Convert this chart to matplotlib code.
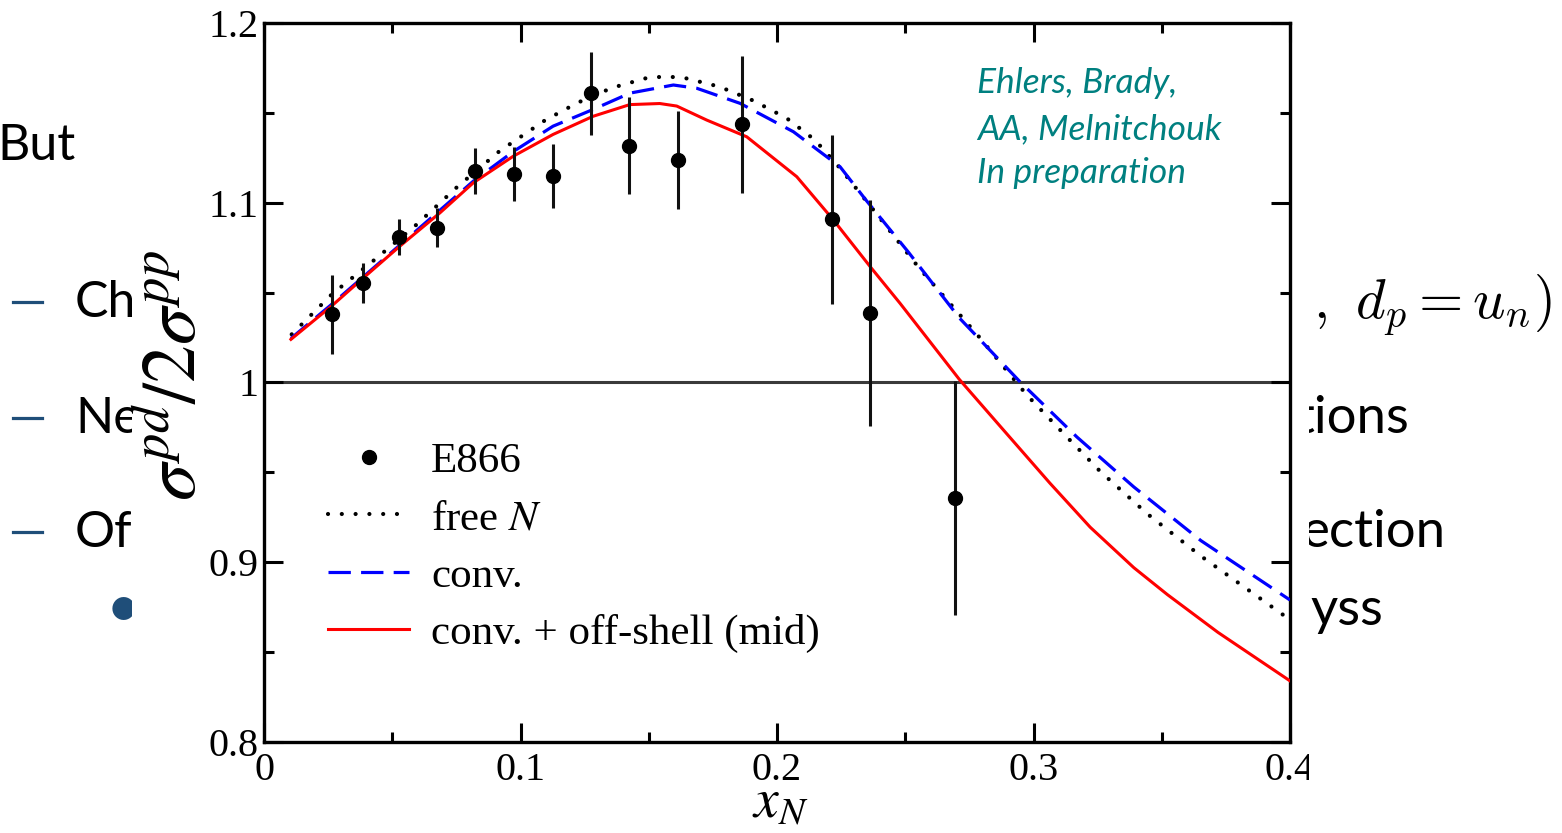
import matplotlib
matplotlib.use("Agg")
import matplotlib.pyplot as plt
from matplotlib.patches import Rectangle
from matplotlib.lines import Line2D
from matplotlib.ticker import MultipleLocator, FuncFormatter

plt.rcParams["mathtext.fontset"] = "stix"

# E866 pd/2pp Drell-Yan ratio
x_e866 = [0.0264, 0.0387, 0.0528, 0.0676, 0.0823, 0.0975, 0.1125,
          0.1275, 0.1424, 0.1615, 0.1865, 0.2213, 0.2363, 0.2694]
r_e866 = [1.038, 1.0555, 1.0811, 1.0862, 1.1177, 1.116, 1.1149,
          1.1609, 1.1316, 1.1238, 1.1436, 1.0908, 1.0388, 0.9358]
err_e866 = [0.022, 0.011, 0.010, 0.011, 0.013, 0.015, 0.018,
            0.023, 0.027, 0.027, 0.038, 0.047, 0.063, 0.065]

# free nucleon
x_free = [0.0108, 0.0264, 0.0433, 0.0596, 0.0754, 0.0918, 0.1096, 0.1222,
          0.1356, 0.1492, 0.1563, 0.1635, 0.1775, 0.1908, 0.2038, 0.2148,
          0.2246, 0.2376, 0.2554, 0.2789, 0.2973, 0.313, 0.3261, 0.3444,
          0.3653, 0.40]
r_free = [1.0268, 1.049, 1.0685, 1.088, 1.1089, 1.1287, 1.1459, 1.1556,
          1.1639, 1.1694, 1.1702, 1.1696, 1.1646, 1.1568, 1.147, 1.1349,
          1.1192, 1.096, 1.0637, 1.0252, 0.9932, 0.9697, 0.9504, 0.9269,
          0.9034, 0.868]

# convolution
x_conv = [0.0105, 0.0264, 0.053, 0.0816, 0.0972, 0.1127, 0.1283, 0.1427,
          0.1596, 0.1687, 0.1856, 0.2064, 0.2246, 0.2344, 0.2514, 0.2711,
          0.2946, 0.3169, 0.3391, 0.3653, 0.40]
r_conv = [1.0245, 1.0435, 1.0765, 1.112, 1.1285, 1.1426, 1.1519, 1.161,
          1.1655, 1.1637, 1.1553, 1.1395, 1.120, 1.102, 1.0722, 1.0359,
          1.0006, 0.9697, 0.9419, 0.912, 0.879]

# convolution + off-shell (mid)
x_off = [0.0105, 0.0264, 0.0374, 0.053, 0.0686, 0.0816, 0.0972, 0.1127,
         0.1283, 0.1426, 0.1543, 0.1609, 0.1726, 0.1882, 0.2077, 0.222,
         0.2363, 0.248, 0.2711, 0.2868, 0.3064, 0.3221, 0.3391, 0.3522,
         0.3719, 0.40]
r_off = [1.024, 1.0426, 1.0565, 1.0759, 1.0944, 1.1111, 1.1259, 1.138,
         1.1481, 1.1546, 1.1552, 1.1538, 1.146, 1.1367, 1.1145, 1.0904,
         1.0645, 1.044, 1.0017, 0.976, 0.944, 0.9195, 0.897, 0.882,
         0.861, 0.834]

W, H = 1562, 833
fig = plt.figure(figsize=(W / 100, H / 100), dpi=100)


def fx(px):
    return px / W


def fy(py):
    return 1 - py / H


# slide text behind the figure
slide_font = "Lato"
blue_dark = "#1F4E79"
fs = 36
fig.text(fx(-3), fy(160), "But", fontsize=fs, family=slide_font, va="baseline", zorder=1)
for yb, word in [(317, "Ch"), (433, "Ne"), (547, "Of")]:
    fig.add_artist(Line2D([fx(13), fx(42)], [fy(yb - 15)] * 2, transform=fig.transFigure,
                          color=blue_dark, lw=2.3, zorder=1))
    fig.text(fx(75), fy(yb), word, fontsize=fs, family=slide_font, va="baseline", zorder=1)
fig.text(fx(123), fy(610), "\u2022", fontsize=44, family=slide_font, color=blue_dark,
         ha="center", va="center", zorder=1)
fig.text(fx(1313), fy(318), r"$,\ d_p = u_n)$", fontsize=41, math_fontfamily="cm",
         va="baseline", zorder=1)
fig.text(fx(1296), fy(433), "tions", fontsize=38, family=slide_font, va="baseline", zorder=1)
fig.text(fx(1302), fy(547), "ection", fontsize=38, family=slide_font, va="baseline", zorder=1)
fig.text(fx(1310), fy(625), "yss", fontsize=38, family=slide_font, va="baseline", zorder=1)

# white backing of the plot image
fig.add_artist(Rectangle((fx(132), 0), fx(1309) - fx(132), 1, transform=fig.transFigure,
                         facecolor="white", edgecolor="none", zorder=2))

ax = fig.add_axes([fx(264), fy(742), fx(1290) - fx(264), fy(23) - fy(742)])
ax.set_zorder(3)

serif = "Liberation Serif"

ax.axhline(1.0, color="#3a3a3a", lw=2.2, zorder=1)
ax.plot(x_free, r_free, color="black", lw=3.0, linestyle=(0, (0.01, 3.3)),
        dash_capstyle="round", label="free $N$", zorder=2)
ax.plot(x_conv, r_conv, color="blue", lw=2.3, linestyle=(0, (7, 3.2)),
        label="conv.", zorder=3)
ax.plot(x_off, r_off, color="red", lw=2.2, label="conv. + off-shell (mid)", zorder=4)
ax.errorbar(x_e866, r_e866, yerr=err_e866, fmt="none", ecolor="#111111",
            elinewidth=2.2, capsize=0, zorder=5)
ax.plot(x_e866, r_e866, "o", color="black", ms=10, label="E866", zorder=6)

ax.set_xlim(0, 0.4)
ax.set_ylim(0.8, 1.2)
ax.xaxis.set_major_locator(MultipleLocator(0.1))
ax.xaxis.set_minor_locator(MultipleLocator(0.05))
ax.yaxis.set_major_locator(MultipleLocator(0.1))
ax.yaxis.set_minor_locator(MultipleLocator(0.05))
fmt = FuncFormatter(lambda v, p: f"{v:g}")
ax.xaxis.set_major_formatter(fmt)
ax.yaxis.set_major_formatter(fmt)
ax.tick_params(which="both", direction="in", top=True, right=True, width=2.2)
ax.tick_params(which="major", length=14)
ax.tick_params(which="minor", length=7)
ax.tick_params(axis="y", pad=4)
ax.tick_params(axis="x", pad=7)
for lab in ax.get_xticklabels() + ax.get_yticklabels():
    lab.set_fontfamily(serif)
    lab.set_fontsize(29)
for s in ax.spines.values():
    s.set_linewidth(2.4)

ax.set_ylabel(r"$\sigma^{pd}/2\sigma^{pp}$", fontsize=54, va="center")
ax.yaxis.set_label_coords(-0.086, 0.51)
ax.set_xlabel(r"$x_N$", fontsize=40)
ax.xaxis.set_label_coords(0.503, -0.046)

h, l = ax.get_legend_handles_labels()
order = [3, 0, 1, 2]
ax.legend([h[i] for i in order], [l[i] for i in order], loc="upper left",
          bbox_to_anchor=(0.062, 0.417), frameon=False, borderpad=0, borderaxespad=0,
          handlelength=1.9, handletextpad=0.5, labelspacing=0.42,
          prop={"family": serif, "size": 31})

teal = "#008080"
for yb, line in [(93, "Ehlers, Brady,"), (139, "AA, Melnitchouk"), (183, "In preparation")]:
    fig.text(fx(977), fy(yb), line, fontsize=25.5, family=slide_font, style="italic",
             color=teal, va="baseline", zorder=5)

# edge of the plot image cuts the last tick label
fig.add_artist(Rectangle((fx(1309), 0), 1 - fx(1309), fy(745), transform=fig.transFigure,
                         facecolor="white", edgecolor="none", zorder=4))

fig.savefig("out.png", dpi=100)
